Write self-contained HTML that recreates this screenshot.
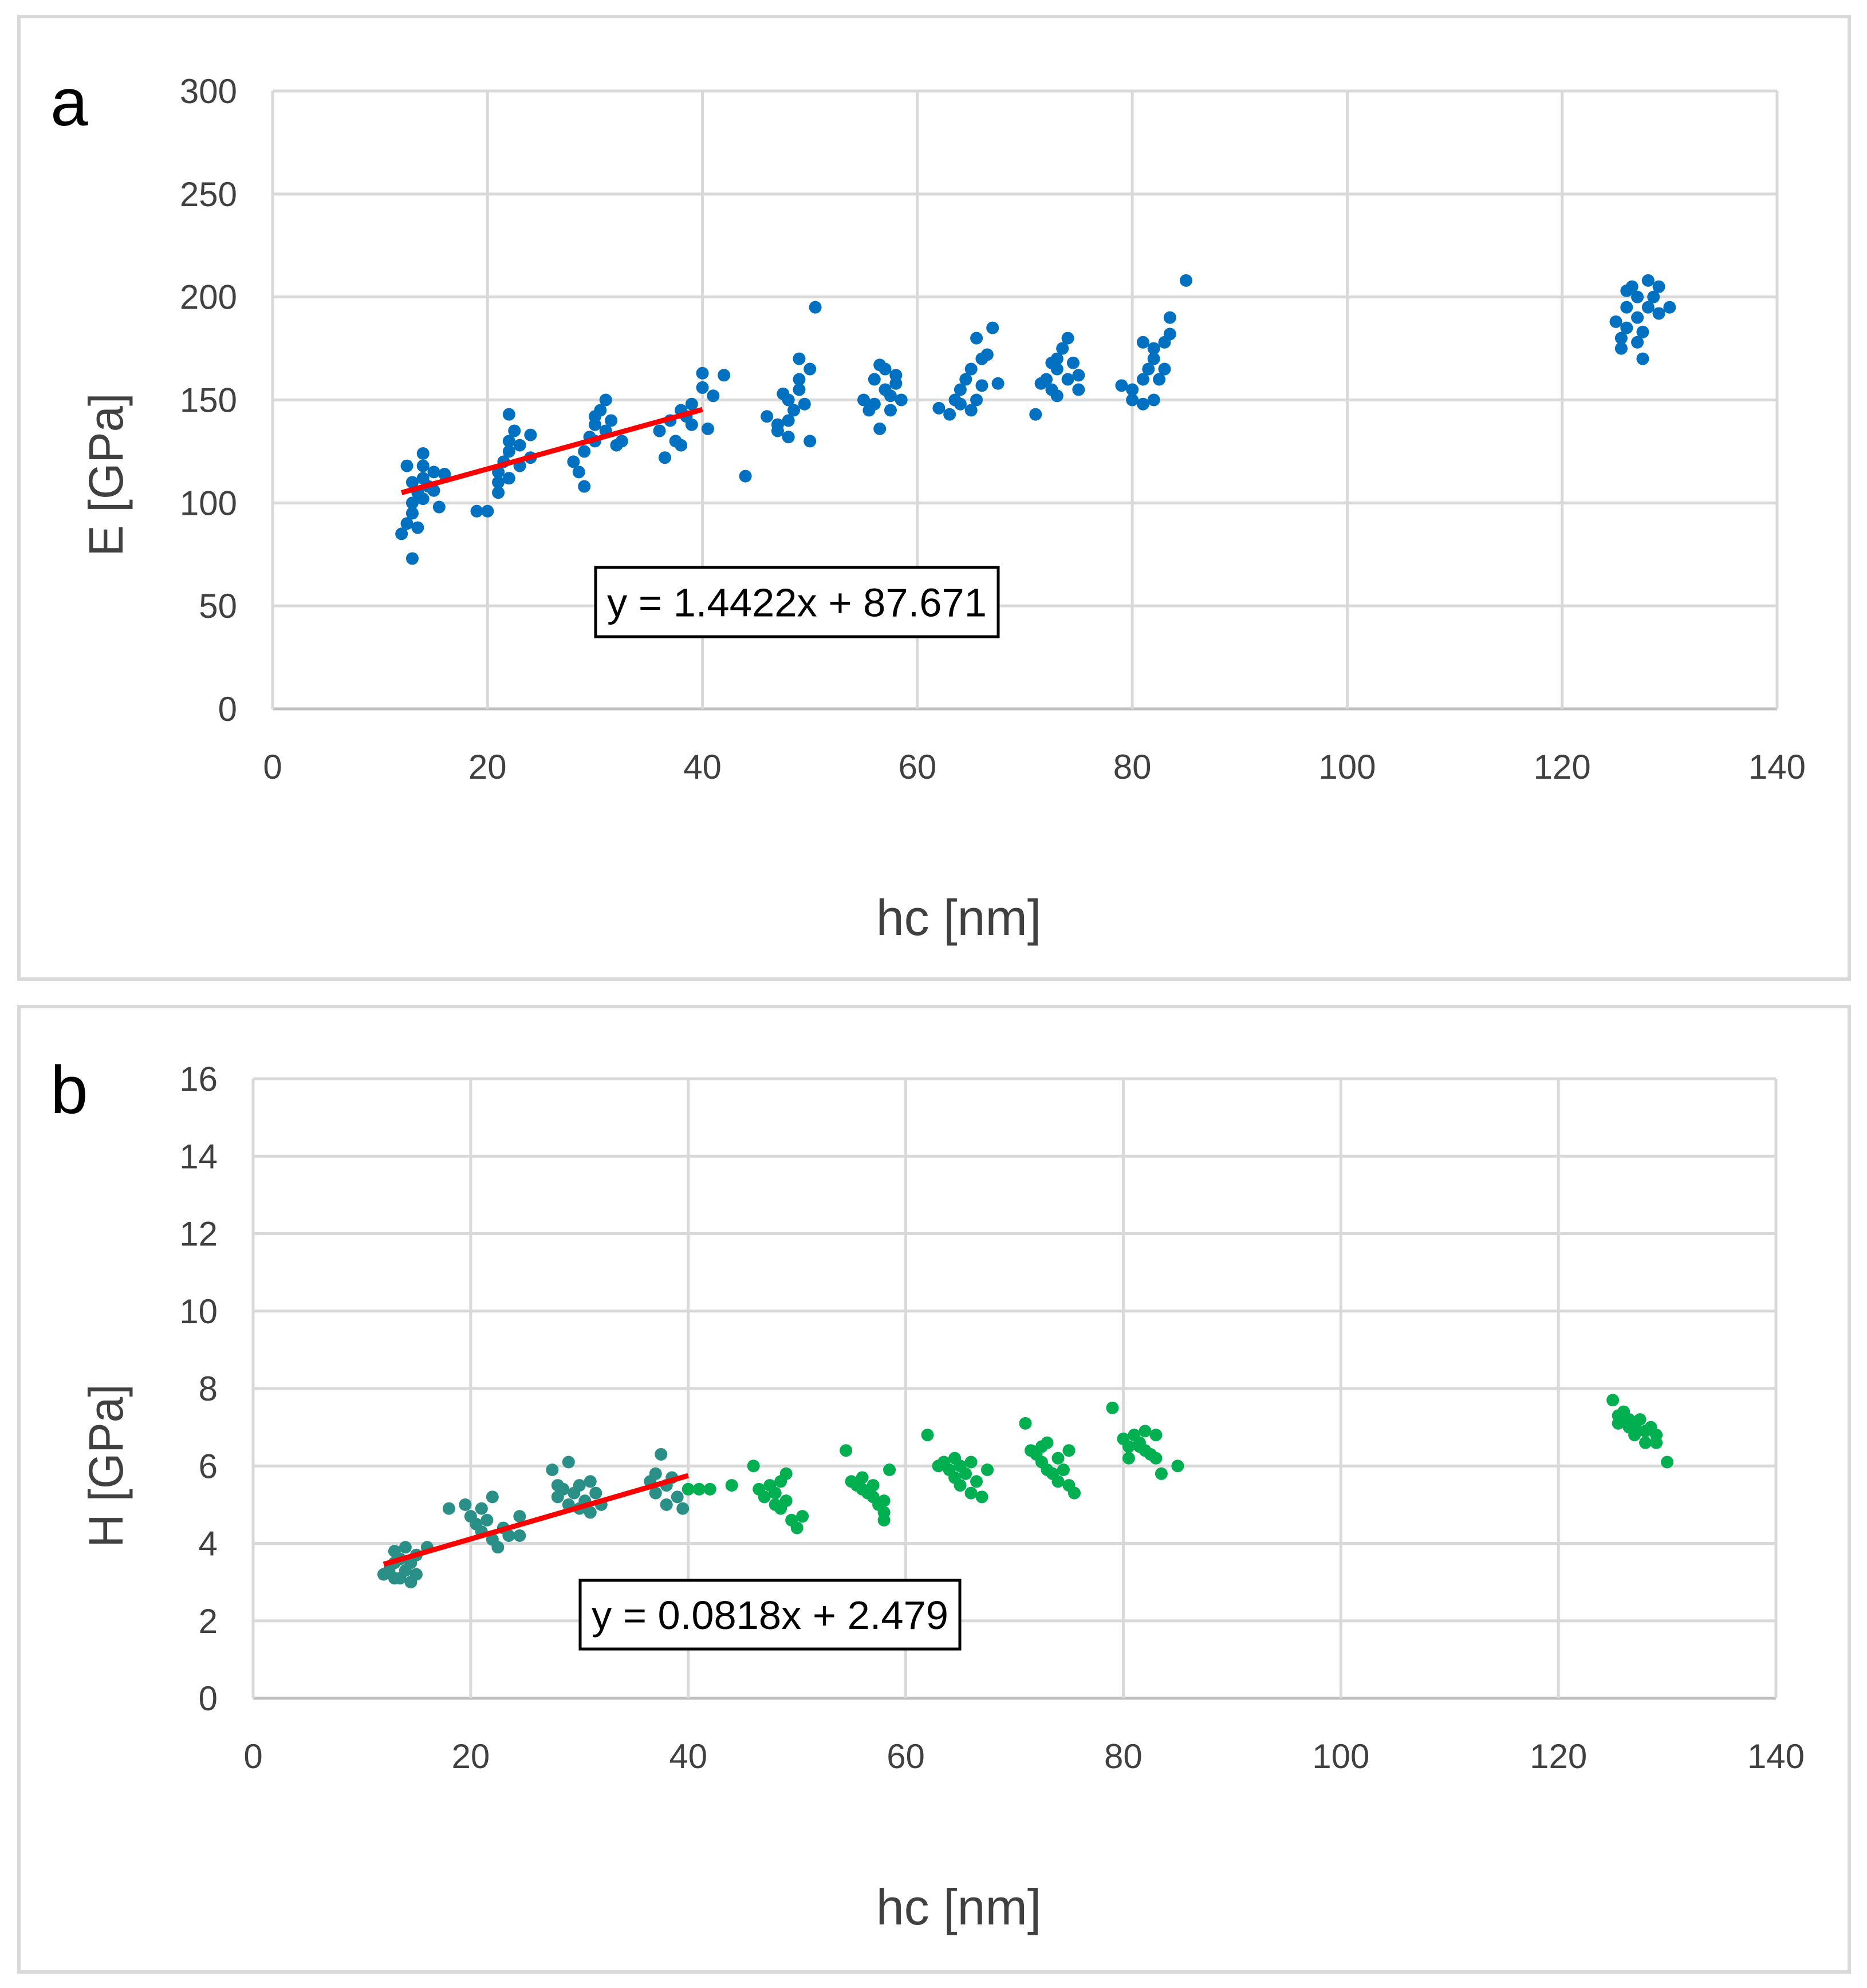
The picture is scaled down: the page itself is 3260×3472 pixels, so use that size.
<!DOCTYPE html>
<html><head><meta charset="utf-8">
<style>
html,body{margin:0;padding:0;background:#fff;}
svg{display:block;font-family:"Liberation Sans",sans-serif;}
</style></head>
<body>
<svg id="fig" width="3260" height="3472" viewBox="0 0 3260 3472"></svg>
<script>
const xTicks=[0,20,40,60,80,100,120,140];
const eTicks=[0,50,100,150,200,250,300];
const hTicks=[0,2,4,6,8,10,12,14,16];
const eFit=[1.4422,87.671];
const hFit=[0.0818,2.479];
const fitRange=[12,40];
const ePoints=[[12,85],[12.5,90],[13,73],[13,95],[13,100],[13.5,105],[13,110],[14,118],[14,112],[14.5,108],[14,124],[15,115],[15.5,98],[16,114],[12.5,118],[13.5,88],[14,102],[15,106],
[19,96],[20,96],[21,105],[21,115],[21.5,120],[22,125],[22,130],[22.5,135],[22,143],[23,118],[23,128],[21,110],[24,133],[24,122],[22,112],
[28,120],[28.5,115],[29,108],[29,125],[30,130],[30,138],[30.5,145],[31,150],[31,135],[32,128],[29.5,132],[30,142],[31.5,140],[32.5,130],
[36,135],[36.5,122],[37,140],[37.5,130],[38,145],[38,128],[39,148],[39,138],[40,156],[40,163],[40.5,136],[41,152],[42,162],[44,113],[38.5,142],
[46,142],[47,138],[47,135],[48,132],[48,150],[48.5,145],[49,155],[49,160],[49,170],[50,130],[50,165],[48,140],[50.5,195],[49.5,148],[47.5,153],
[55,150],[55.5,145],[56,148],[56,160],[56.5,136],[57,155],[57,165],[57.5,152],[58,158],[58,162],[58.5,150],[56.5,167],[57.5,145],
[62,146],[63,143],[63.5,150],[64,155],[64.5,160],[65,165],[65,145],[65.5,150],[66,170],[66,157],[66.5,172],[67,185],[65.5,180],[64,148],[67.5,158],
[71,143],[71.5,158],[72,160],[72.5,155],[73,165],[73,170],[73.5,175],[74,160],[74,180],[74.5,168],[75,155],[75,162],[73,152],[72.5,168],
[79,157],[80,150],[80,155],[81,148],[81,160],[81.5,165],[82,170],[82,175],[82.5,160],[83,178],[83,165],[83.5,182],[83.5,190],[82,150],[85,208],[81,178],
[125,188],[125.5,180],[125.5,175],[126,185],[126,195],[126.5,205],[127,190],[127,200],[127,178],[127.5,170],[128,195],[128,208],[128.5,200],[129,205],[129,192],[130,195],[126,203],[127.5,183]];
const hPoints=[[12,3.2],[12.5,3.3],[13,3.5],[13,3.8],[13.5,3.1],[13.5,3.6],[14,3.9],[14,3.3],[14.5,3.0],[14.5,3.5],[15,3.7],[15,3.2],[16,3.9],[13,3.1],
[18,4.9],[19.5,5.0],[20,4.7],[20.5,4.5],[21,4.9],[21,4.3],[21.5,4.6],[22,5.2],[22,4.1],[22.5,3.9],[23,4.4],[23.5,4.2],[24.5,4.7],[24.5,4.2],
[27.5,5.9],[28,5.2],[28.5,5.4],[29,6.1],[29,5.0],[29.5,5.3],[30,4.9],[30,5.5],[30.5,5.1],[31,5.6],[31,4.8],[31.5,5.3],[32,5.0],[28,5.5],
[36.5,5.6],[37,5.8],[37,5.3],[37.5,6.3],[38,5.5],[38,5.0],[38.5,5.7],[39,5.2],[39.5,4.9],[40,5.4],[41,5.4],[42,5.4],[44,5.5],
[46,6.0],[46.5,5.4],[47,5.2],[47.5,5.5],[48,5.0],[48,5.3],[48.5,4.9],[49,5.8],[49,5.1],[49.5,4.6],[50,4.4],[50.5,4.7],[48.5,5.6],
[54.5,6.4],[55,5.6],[55.5,5.5],[56,5.7],[56.5,5.3],[57,5.2],[57,5.5],[57.5,5.0],[58,4.8],[58,5.1],[58.5,5.9],[58,4.6],[56,5.4],
[62,6.8],[63,6.0],[63.5,6.1],[64,5.9],[64.5,5.7],[65,6.0],[65,5.5],[65.5,5.8],[66,5.3],[66,6.1],[66.5,5.6],[67,5.2],[67.5,5.9],[64.5,6.2],
[71,7.1],[71.5,6.4],[72,6.3],[72.5,6.1],[73,5.9],[73,6.6],[73.5,5.8],[74,6.2],[74,5.6],[74.5,5.9],[75,6.4],[75,5.5],[75.5,5.3],[72.5,6.5],
[79,7.5],[80,6.7],[80.5,6.5],[80.5,6.2],[81,6.8],[81.5,6.6],[82,6.4],[82,6.9],[82.5,6.3],[83,6.2],[83,6.8],[83.5,5.8],[85,6.0],[81.5,6.5],
[125,7.7],[125.5,7.3],[125.5,7.1],[126,7.4],[126.5,7.2],[127,7.0],[127,6.8],[127.5,7.2],[128,6.9],[128,6.6],[128.5,7.0],[129,6.8],[129,6.6],[130,6.1],[126.5,7.0]];

const NS='http://www.w3.org/2000/svg';
const svg=document.getElementById('fig');
function mk(tag,attrs,parent,text){const e=document.createElementNS(NS,tag);for(const k in attrs)e.setAttribute(k,attrs[k]);if(text!==undefined)e.textContent=text;(parent||svg).appendChild(e);return e;}

function panel(cfg){
  const g=mk('g',{});
  
  
  const frame=mk('rect',{x:cfg.box[0],y:cfg.box[1],width:cfg.box[2],height:cfg.box[3],fill:'#fff',stroke:'#d9d9d9','stroke-width':6},g);
  
  
  const X=v=>cfg.x0+(v-0)/(140-0)*(cfg.x1-cfg.x0);
  const yMax=cfg.yTicks[cfg.yTicks.length-1];
  const Y=v=>cfg.y0-(v/yMax)*(cfg.y0-cfg.y1);
  cfg.yTicks.forEach(t=>{
    const l=mk('line',{x1:cfg.x0,x2:cfg.x1,y1:Y(t),y2:Y(t),stroke:t===0?'#bfbfbf':'#d9d9d9','stroke-width':5},g);
    
    
    const tx=mk('text',{x:cfg.x0-62,y:Y(t)+21,'text-anchor':'end','font-size':60,fill:'#404040'},g,String(t));
    
    
  });
  xTicks.forEach(t=>{
    const l=mk('line',{x1:X(t),x2:X(t),y1:cfg.y1,y2:cfg.y0,stroke:'#d9d9d9','stroke-width':5},g);
    
    
    const tx=mk('text',{x:X(t),y:cfg.y0+122,'text-anchor':'middle','font-size':60,fill:'#404040'},g,String(t));
    
    
  });
  cfg.points.forEach(p=>{
    const c=mk('circle',{cx:X(p[0]),cy:Y(p[1]),r:11,fill:cfg.colorFn(p)},g);
    
    
  });
  const fl=mk('line',{x1:X(fitRange[0]),y1:Y(cfg.fit[0]*fitRange[0]+cfg.fit[1]),x2:X(fitRange[1]),y2:Y(cfg.fit[0]*fitRange[1]+cfg.fit[1]),stroke:'#ff0000','stroke-width':9},g);
  
  
  const eb=mk('rect',{x:cfg.eq[0],y:cfg.eq[1],width:cfg.eq[2],height:cfg.eq[3],fill:'#fff',stroke:'#000','stroke-width':5},g);
  
  
  const et=mk('text',{x:cfg.eq[0]+cfg.eq[2]/2,y:cfg.eq[1]+cfg.eq[3]/2+25,'text-anchor':'middle','font-size':70,fill:'#000',textLength:cfg.eq[2]-40,lengthAdjust:'spacingAndGlyphs'},g,cfg.eqText);
  
  
  const pl=mk('text',{x:cfg.box[0]+55,y:cfg.y1+60,'font-size':118,fill:'#000'},g,cfg.letter);
  
  
  const xt=mk('text',{x:1674,y:cfg.y0+395,'text-anchor':'middle','font-size':88,fill:'#404040'},g,'hc [nm]');
  
  
  const yc=cfg.ytc;
  const yt=mk('text',{x:yc[0],y:yc[1],'text-anchor':'middle','font-size':84,fill:'#404040',transform:`rotate(-90 ${yc[0]} ${yc[1]})`,textLength:285,lengthAdjust:'spacingAndGlyphs'},g,cfg.yTitle);
  
  
}

panel({name:'panel-a',letter:'a',box:[33,29,3196,1681],x0:476,x1:3103,y0:1238,y1:159,yTicks:eTicks,points:ePoints,fit:eFit,
  colorFn:p=>'#0070c0',eq:[1040,991,703,121],eqText:'y = 1.4422x + 87.671',yTitle:'E [GPa]',ytc:[214,829]});
panel({name:'panel-b',letter:'b',box:[33,1758,3196,1686],x0:442,x1:3101,y0:2966,y1:1884,yTicks:hTicks,points:hPoints,fit:hFit,
  colorFn:p=>p[0]<40?'#2a8f86':'#00b050',eq:[1013,2760,663,120],eqText:'y = 0.0818x + 2.479',yTitle:'H [GPa]',ytc:[214,2560]});
</script>
</body></html>
